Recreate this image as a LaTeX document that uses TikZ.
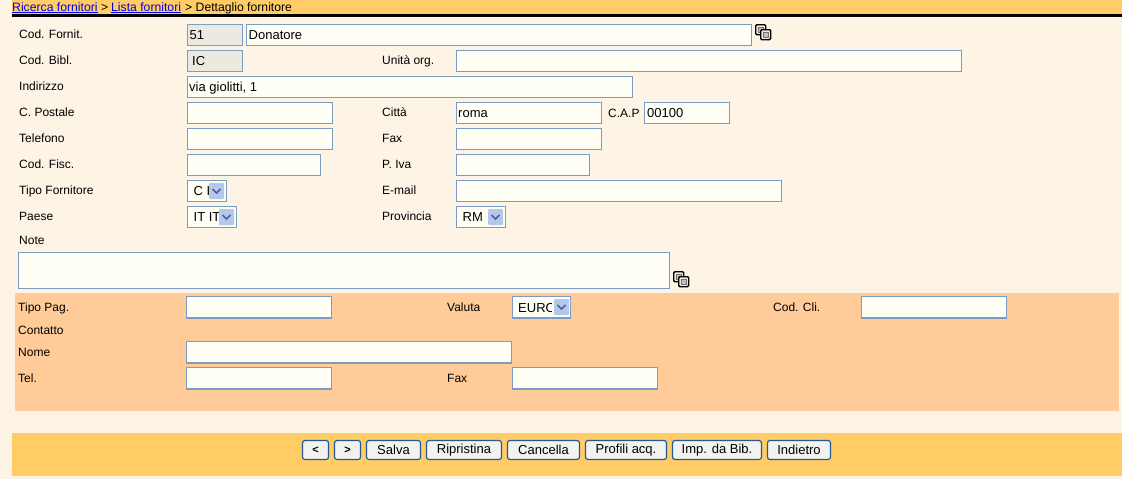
\documentclass[tikz,border=0pt]{standalone}
\usepackage{fontspec}
\setmainfont{Liberation Sans}
\definecolor{pagebg}{HTML}{FDF4E6}
\definecolor{bandbg}{HTML}{FFCC66}
\definecolor{panelbg}{HTML}{FFCC99}
\definecolor{fieldbg}{HTML}{FFFFF6}
\definecolor{fieldline}{HTML}{7C9DC3}
\definecolor{lockedbg}{HTML}{ECE9E0}
\definecolor{arrowbg}{HTML}{B4C8EE}
\definecolor{arrowfg}{HTML}{4A6490}
\definecolor{btnline}{HTML}{1F5A96}
\definecolor{btnbg}{HTML}{F3F2EE}
\definecolor{linkblue}{HTML}{0000EE}
\tikzset{
  lab/.style={anchor=base west,inner sep=0pt,font=\fontsize{12}{14}\selectfont,text=black},
  crumb/.style={anchor=base west,inner sep=0pt,font=\fontsize{12.2}{14}\selectfont},
  val/.style={anchor=base west,inner sep=0pt,font=\fontsize{13}{15}\selectfont,text=black},
  fbox/.style={draw=fieldline,line width=1.2pt,fill=fieldbg},
  lbox/.style={draw=fieldline,line width=1.2pt,fill=lockedbg},
  btn/.style={draw=btnline,line width=1.2pt,fill=btnbg,rounded corners=2.5pt,inner sep=0pt,outer sep=0pt,font=\fontsize{13}{15}\selectfont,text=black},
  chev/.style={draw=arrowfg,line width=1.7pt},
  ico/.style={draw=black,line width=1.4pt,fill=lockedbg,rounded corners=1.2pt},
  icoin/.style={draw=black!55,line width=0.8pt,fill=black!25}
}
\newcommand{\fld}[6][fbox]{\node[#1,minimum width=#5pt-#3pt-0.5pt,minimum height=#6pt-#4pt,inner sep=0pt,outer sep=0pt,anchor=north west] (#2) at (#3,#4) {};}
\newcommand{\drop}[2]{\fill[arrowbg,rounded corners=1pt] (#1,#2) rectangle ++(15,16);
  \draw[chev] (#1+3.5,#2+6) -- (#1+7.5,#2+10) -- (#1+11.5,#2+6);}
\newcommand{\icon}[2]{\draw[ico] (#1,#2) rectangle ++(10,10);
  \draw[icoin] (#1+2.5,#2+2.5) rectangle ++(5,5);
  \draw[ico] (#1+5,#2+5) rectangle ++(10,10);
  \draw[icoin] (#1+7.5,#2+7.5) rectangle ++(5,5);}
\newcommand{\bt}[4]{\node[btn,minimum width=#3pt-#2pt-0.5pt,minimum height=19pt,anchor=north west] (#1) at (#2,440.5) {#4};}
\begin{document}
\begin{tikzpicture}[x=1pt,y=-1pt]
\useasboundingbox (0,0) rectangle (1122,479);
\fill[pagebg] (0,0) rectangle (1122,479);
\fill[bandbg] (12,0) rectangle (1122,14);
\fill[black] (12,14) rectangle (1122,16.5);
\fill[panelbg] (15,293) rectangle (1119,411);
\fill[bandbg] (12,433) rectangle (1122,476);
\node[crumb,text=linkblue] (c1) at (12,11) {\underbar{Ricerca fornitori}};
\node[crumb] (s1) at (101,11) {>};
\node[crumb,text=linkblue] (c2) at (111,11) {\underbar{Lista fornitori}};
\node[crumb] (s2) at (185,11) {> Dettaglio fornitore};
\node[lab] (l1) at (19,38.5) {Cod. Fornit.};
\node[lab] (l2) at (19,64.5) {Cod. Bibl.};
\node[lab] (l3) at (382,64.5) {Unità org.};
\node[lab] (l4) at (19,90.5) {Indirizzo};
\node[lab] (l5) at (19,116.5) {C. Postale};
\node[lab] (l6) at (382,116.5) {Città};
\node[lab] (l7) at (608,117) {C.A.P};
\node[lab] (l8) at (19,142.5) {Telefono};
\node[lab] (l9) at (382,142.5) {Fax};
\node[lab] (l10) at (19,168.5) {Cod. Fisc.};
\node[lab] (l11) at (382,168.5) {P. Iva};
\node[lab] (l12) at (19,194.5) {Tipo Fornitore};
\node[lab] (l13) at (382,194.5) {E-mail};
\node[lab] (l14) at (19,220.5) {Paese};
\node[lab] (l15) at (382,220.5) {Provincia};
\node[lab] (l16) at (19,244.5) {Note};
\node[lab] (l17) at (18,311.5) {Tipo Pag.};
\node[lab] (l18) at (447,311.5) {Valuta};
\node[lab] (l19) at (773,311.5) {Cod. Cli.};
\node[lab] (l20) at (18,334) {Contatto};
\node[lab] (l21) at (18,356.5) {Nome};
\node[lab] (l22) at (18,382.5) {Tel.};
\node[lab] (l23) at (447,382.5) {Fax};
\fld[lbox]{f1}{187.5}{24.5}{243}{45.5}
\fld{f2}{246.5}{24.5}{752}{45.5}
\fld[lbox]{f3}{187.5}{50.5}{243}{71.5}
\fld{f4}{456.5}{50.5}{962}{71.5}
\fld{f5}{187.5}{76.5}{633}{97.5}
\fld{f6}{187.5}{102.5}{333}{123.5}
\fld{f7}{456.5}{102.5}{602}{123.5}
\fld{f8}{644.5}{102.5}{730}{123.5}
\fld{f9}{187.5}{128.5}{333}{149.5}
\fld{f10}{456.5}{128.5}{602}{149.5}
\fld{f11}{187.5}{154.5}{321}{175.5}
\fld{f12}{456.5}{154.5}{590}{175.5}
\fld{f13}{187.5}{180.5}{227}{201.5}
\fld{f14}{456.5}{180.5}{782}{201.5}
\fld{f15}{187.5}{206.5}{237}{227.5}
\fld{f16}{456.5}{206.5}{506}{227.5}
\fld{f17}{18.5}{252.5}{670}{288.5}
\fld{f18}{186.5}{296.5}{332}{318}
\fld{f19}{512.5}{296.5}{571}{318}
\fld{f20}{861.5}{296.5}{1007}{318}
\fld{f21}{186.5}{341.5}{512}{363}
\fld{f22}{186.5}{367.5}{332}{389}
\fld{f23}{512.5}{367.5}{658}{389}
\node[val] (v1) at (189.5,39) {51};
\node[val] (v2) at (248.5,39) {Donatore};
\node[val] (v3) at (192,65) {IC};
\node[val] (v4) at (189,91) {via giolitti, 1};
\node[val] (v5) at (458,117) {roma};
\node[val] (v6) at (647,117) {00100};
\node[val] (v7) at (193.5,195) {C I};
\node[val] (v8) at (193.5,221) {IT IT};
\node[val] (v9) at (462.5,221) {RM};
\node[val] (v10) at (518,312) {EURO};
\fill[fieldbg] (551.7,298) rectangle (554,316);
\drop{209}{183}
\drop{219}{209}
\drop{488}{209}
\drop{554}{299}
\icon{755.7}{24.7}
\icon{673.7}{271.7}
\bt{b1}{302.5}{329}{\fontsize{11}{13}\selectfont\textbf{<}}
\bt{b2}{334.5}{361}{\fontsize{11}{13}\selectfont\textbf{>}}
\bt{b3}{366.5}{421}{Salva}
\bt{b4}{426.5}{502}{Ripristina}
\bt{b5}{507.5}{580}{Cancella}
\bt{b6}{585.5}{667}{Profili acq.}
\bt{b7}{672.5}{762}{Imp. da Bib.}
\bt{b8}{767.5}{831}{Indietro}
\end{tikzpicture}
\end{document}
